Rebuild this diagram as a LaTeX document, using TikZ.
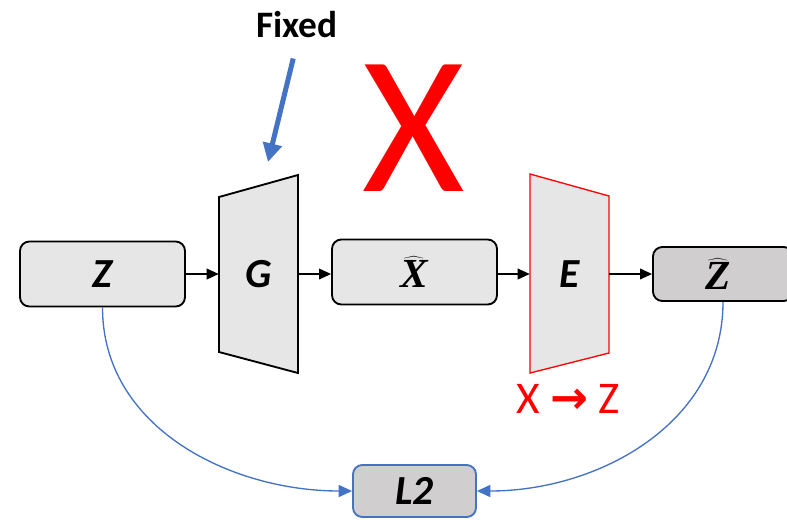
\documentclass[tikz,border=0pt]{standalone}
\usepackage{fix-cm}
\usepackage{fontspec}
\setmainfont{Carlito}
\newfontfamily\symfont{DejaVu Sans}
\newfontfamily\hatfont{Liberation Serif}
\usetikzlibrary{arrows.meta}
\definecolor{boxgray}{RGB}{230,230,230}
\definecolor{boxdark}{RGB}{208,206,206}
\definecolor{lineblue}{RGB}{68,114,196}
\newcommand{\hatvar}[1]{$\boldmath\widehat{\mbox{\hatfont\bfseries\itshape #1}}$}

\begin{document}
\begin{tikzpicture}[x=0.75pt,y=-0.75pt]
    % Node styles
    \tikzstyle{box_style} = [rectangle, rounded corners=7pt, draw, line width=1.4pt, fill=boxgray, minimum width=123.75pt, minimum height=48.75pt, font=\fontsize{31}{34}\selectfont\bfseries\itshape]
    \tikzstyle{net_style} = [rectangle, minimum width=59.25pt, minimum height=149pt, font=\fontsize{31}{34}\selectfont\bfseries\itshape]
    \tikzstyle{arrow_style} = [-{Triangle[length=9pt,width=8pt]}, line width=1.1pt]
    \tikzstyle{loss_style} = [draw=lineblue, line width=1pt, -{Triangle[length=10pt,width=9pt]}]

    \useasboundingbox (0,0) rectangle (787,519);
    \clip (0,0) rectangle (787,519);

    % Network shapes
    \draw[line width=1.4pt, fill=boxgray] (219,197) -- (298,175) -- (298,373) -- (219,352) -- cycle;
    \draw[line width=1pt, draw=red, fill=boxgray] (530,174) -- (609,196) -- (609,353) -- (530,373) -- cycle;

    % Nodes
    \node[box_style] (Z) at (102.5,274) {Z};
    \node[net_style] (G) at (258.5,274) {G};
    \node[box_style] (Xh) at (414.5,272) {\hatvar{X}};
    \node[net_style] (E) at (569.5,274) {E};
    \node[box_style, fill=boxdark, minimum width=105pt, minimum height=40.5pt] (Zh) at (723,274) {\kern-7.5pt\hatvar{Z}};
    \node[box_style, draw=lineblue, fill=boxdark, minimum width=92.25pt, minimum height=39pt] (L2) at (414.5,491) {L2};

    % Labels
    \node[font=\fontsize{28}{32}\selectfont\bfseries] (Fixed) at (297,25) {Fixed};
    \node[text=red, font=\fontsize{148}{150}\selectfont] (Cross) at (414,128) {X};
    \node[text=red, font=\fontsize{34}{38}\selectfont] (EMap) at (568,399) {X {\symfont\bfseries →} Z};

    % Arrows
    \coordinate (Gtop) at (268,162);
    \draw[draw=lineblue, line width=3.75pt, -{Triangle[length=14pt,width=14pt]}, shorten <=12pt] (Fixed.south) -- (Gtop);
    \draw[arrow_style] (Z.east) -- (G.west);
    \draw[arrow_style] (G.east) -- (Xh.west |- G.west);
    \draw[arrow_style] (Xh.east |- E.west) -- (E.west);
    \draw[arrow_style] (E.east) -- (Zh.west);
    \draw[loss_style] (Z.south) to[out=-90,in=180] (L2.west);
    \draw[loss_style] (Zh.south) to[out=-90,in=0] (L2.east);
\end{tikzpicture}
\end{document}
